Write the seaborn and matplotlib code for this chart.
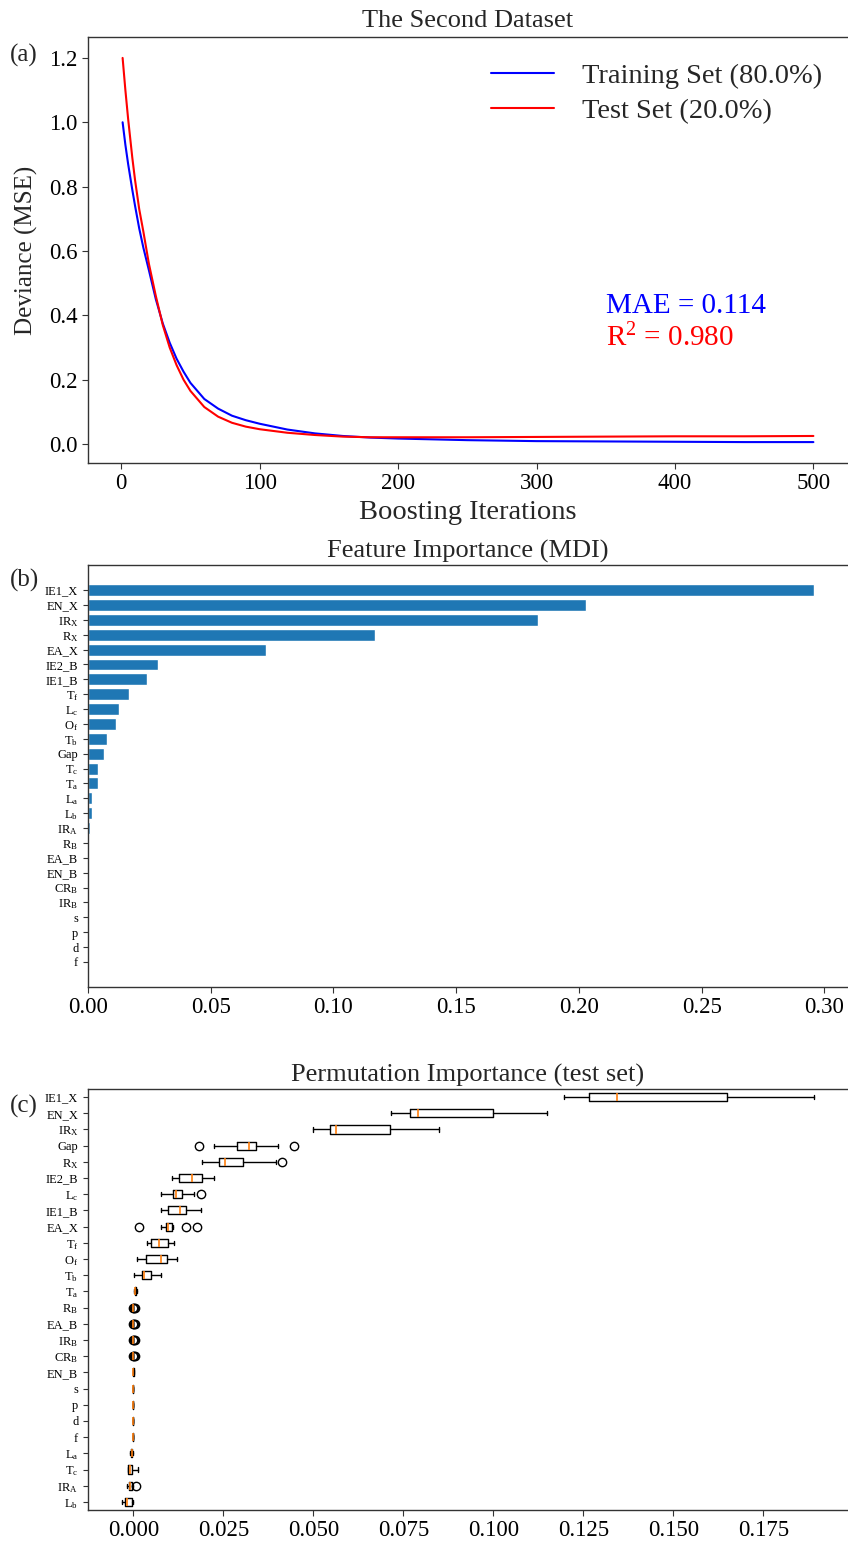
import numpy as np
import pandas as pd
import matplotlib
matplotlib.use("Agg")
import matplotlib.pyplot as plt
from matplotlib.lines import Line2D
import seaborn as sns

# ---------------- data ----------------
iterations = [1, 3, 5, 8, 10, 13, 16, 20, 25, 30, 35, 40, 45, 50, 60, 70, 80, 90,
              100, 120, 140, 160, 180, 200, 250, 300, 350, 400, 450, 500]
train_dev = [1.00, 0.93, 0.87, 0.79, 0.74, 0.67, 0.61, 0.54, 0.45, 0.375, 0.315, 0.265,
             0.225, 0.19, 0.14, 0.11, 0.088, 0.074, 0.063, 0.045, 0.033, 0.025, 0.020,
             0.017, 0.012, 0.009, 0.008, 0.007, 0.006, 0.006]
test_dev = [1.20, 1.10, 1.01, 0.89, 0.82, 0.73, 0.66, 0.56, 0.46, 0.37, 0.30, 0.245,
            0.20, 0.165, 0.115, 0.085, 0.066, 0.054, 0.046, 0.035, 0.028, 0.023, 0.021,
            0.021, 0.021, 0.022, 0.023, 0.024, 0.024, 0.025]
train_label = "Training Set (80.0%)"
test_label = "Test Set (20.0%)"
mae_text = "MAE = 0.114"
r2_text = r"R$^2$ = 0.980"

mdi_features = ["IE1_X", "EN_X", r"$\mathrm{IR_X}$", r"$\mathrm{R_X}$", "EA_X", "IE2_B", "IE1_B",
                r"$\mathrm{T_f}$", r"$\mathrm{L_c}$", r"$\mathrm{O_f}$", r"$\mathrm{T_b}$", "Gap",
                r"$\mathrm{T_c}$", r"$\mathrm{T_a}$", r"$\mathrm{L_a}$", r"$\mathrm{L_b}$",
                r"$\mathrm{IR_A}$", r"$\mathrm{R_B}$", "EA_B", "EN_B", r"$\mathrm{CR_B}$",
                r"$\mathrm{IR_B}$", "s", "p", "d", "f"]
mdi_values = [0.2956, 0.2028, 0.1832, 0.1169, 0.0725, 0.0285, 0.0242, 0.0167, 0.0128,
              0.0114, 0.0077, 0.0066, 0.0041, 0.0041, 0.0018, 0.0018, 0.0010, 0.0, 0.0,
              0.0, 0.0, 0.0, 0.0, 0.0, 0.0, 0.0]

perm_features = ["IE1_X", "EN_X", r"$\mathrm{IR_X}$", "Gap", r"$\mathrm{R_X}$", "IE2_B",
                 r"$\mathrm{L_c}$", "IE1_B", "EA_X", r"$\mathrm{T_f}$", r"$\mathrm{O_f}$",
                 r"$\mathrm{T_b}$", r"$\mathrm{T_a}$", r"$\mathrm{R_B}$", "EA_B",
                 r"$\mathrm{IR_B}$", r"$\mathrm{CR_B}$", "EN_B", "s", "p", "d", "f",
                 r"$\mathrm{L_a}$", r"$\mathrm{T_c}$", r"$\mathrm{IR_A}$", r"$\mathrm{L_b}$"]
perm_whislo = [0.1195, 0.0715, 0.0498, 0.0223, 0.0190, 0.0107, 0.0077, 0.0077, 0.0078,
               0.0038, 0.0010, 0.0001, 0.0002, 0.0, 0.0, 0.0, 0.0, -0.0001, 0.0, 0.0,
               0.0, 0.0, -0.0008, -0.0016, -0.0018, -0.0032]
perm_q1 = [0.1266, 0.0768, 0.0545, 0.0287, 0.0239, 0.0127, 0.0110, 0.0096, 0.0091,
           0.0049, 0.0034, 0.0023, 0.0004, 0.0, 0.0, 0.0, 0.0, -0.00005, 0.0, 0.0,
           0.0, 0.0, -0.0007, -0.0015, -0.0013, -0.0023]
perm_med = [0.1344, 0.0792, 0.0562, 0.0322, 0.0254, 0.0163, 0.0118, 0.0130, 0.0096,
            0.0071, 0.0076, 0.0030, 0.0005, 0.0, 0.0, 0.0, 0.0, 0.0, 0.0, 0.0,
            0.0, 0.0, -0.0005, -0.0009, -0.0010, -0.0018]
perm_q3 = [0.1649, 0.0999, 0.0714, 0.0340, 0.0305, 0.0192, 0.0135, 0.0146, 0.0108,
           0.0097, 0.0093, 0.0049, 0.0007, 0.0, 0.0, 0.0, 0.0, 0.00005, 0.0, 0.0,
           0.0, 0.0, -0.0003, -0.0004, -0.0004, -0.0005]
perm_whishi = [0.1890, 0.1149, 0.0848, 0.0401, 0.0397, 0.0224, 0.0168, 0.0187, 0.0110,
               0.0112, 0.0122, 0.0078, 0.0009, 0.0, 0.0, 0.0, 0.0, 0.0001, 0.0, 0.0,
               0.0, 0.0, -0.0002, 0.0013, -0.0002, -0.0002]
perm_fliers = [[], [], [], [0.0182, 0.0445], [0.0414], [], [0.0187], [],
               [0.0017, 0.0146, 0.0176], [], [], [], [],
               [-0.0002, 0.0002, 0.0004], [-0.0002, 0.0002, 0.0004],
               [-0.0002, 0.0002, 0.0004], [-0.0002, 0.0002, 0.0004],
               [], [], [], [], [], [], [], [0.0006], []]

# ---------------- style ----------------
sns.set_style("ticks")
plt.rcParams["font.family"] = ["Liberation Serif", "DejaVu Serif"]
plt.rcParams["mathtext.fontset"] = "custom"
plt.rcParams["mathtext.rm"] = "Liberation Serif"
plt.rcParams["mathtext.it"] = "Liberation Serif:italic"
plt.rcParams["axes.edgecolor"] = "#333333"
plt.rcParams["axes.linewidth"] = 1.0
plt.rcParams["xtick.color"] = "#333333"
plt.rcParams["ytick.color"] = "#333333"
plt.rcParams["xtick.labelcolor"] = "black"
plt.rcParams["ytick.labelcolor"] = "black"

W, H = 848, 1544
fig = plt.figure(figsize=(W / 100, H / 100), dpi=100)

def rect(left, top, right, bottom):
    return [left / W, 1 - bottom / H, (right - left) / W, (bottom - top) / H]

ax1 = fig.add_axes(rect(88, 37, 848, 463))
ax2 = fig.add_axes(rect(88, 565, 848, 987))
ax3 = fig.add_axes(rect(88, 1089, 848, 1510))

# ---------------- (a) deviance ----------------
df = pd.DataFrame({
    "iter": iterations * 2,
    "dev": train_dev + test_dev,
    "set": [train_label] * len(iterations) + [test_label] * len(iterations),
})
sns.lineplot(data=df, x="iter", y="dev", hue="set",
             palette={train_label: "blue", test_label: "red"},
             linewidth=1.5, ax=ax1, legend=False)
ax1.set_xlim(-24, 525)
ax1.set_ylim(-0.059, 1.265)
ax1.set_xticks([0, 100, 200, 300, 400, 500])
ax1.set_yticks([0.0, 0.2, 0.4, 0.6, 0.8, 1.0, 1.2])
ax1.tick_params(labelsize=16.5, length=4)
ax1.set_xlabel("Boosting Iterations", fontsize=20.5, labelpad=4)
ax1.set_ylabel("Deviance (MSE)", fontsize=18, labelpad=8)
ax1.set_title("The Second Dataset", fontsize=19, pad=7)
handles = [Line2D([], [], color="blue", lw=1.5), Line2D([], [], color="red", lw=1.5)]
ax1.legend(handles, [train_label, test_label], loc="upper right", frameon=False,
           fontsize=20.5, handlelength=2.2, handletextpad=1.0, borderaxespad=0.5,
           labelspacing=0.35)
ax1.text(350, 0.43, mae_text, color="blue", fontsize=21, va="center")
ax1.text(350, 0.33, r2_text, color="red", fontsize=21, va="center")
ax1.spines["right"].set_visible(False)

# ---------------- (b) MDI ----------------
sns.barplot(x=mdi_values, y=mdi_features, orient="h", color="#1f77b4",
            saturation=1, width=0.8, ax=ax2)
n = len(mdi_features)
ax2.set_ylim(n - 1 + 1.69, -1.69)
ax2.set_xlim(0, 0.3096)
ax2.set_xticks([0.0, 0.05, 0.10, 0.15, 0.20, 0.25, 0.30])
ax2.set_xticklabels(["0.00", "0.05", "0.10", "0.15", "0.20", "0.25", "0.30"])
ax2.tick_params(axis="x", labelsize=16.5, length=4)
ax2.tick_params(axis="y", labelsize=9, length=3.5)
ax2.set_title("Feature Importance (MDI)", fontsize=19, pad=5)
ax2.set_xlabel("")
ax2.set_ylabel("")
ax2.spines["right"].set_visible(False)

# ---------------- (c) permutation ----------------
stats = []
for i in range(len(perm_features)):
    stats.append(dict(med=perm_med[i], q1=perm_q1[i], q3=perm_q3[i],
                      whislo=perm_whislo[i], whishi=perm_whishi[i],
                      fliers=np.array(perm_fliers[i]), label=perm_features[i]))
m = len(perm_features)
ax3.bxp(stats, positions=np.arange(1, m + 1), orientation="horizontal",
        widths=0.5, showfliers=True,
        boxprops=dict(color="black", linewidth=1.0),
        whiskerprops=dict(color="black", linewidth=1.0),
        capprops=dict(color="black", linewidth=1.0),
        medianprops=dict(color="#ff7f0e", linewidth=1.2),
        flierprops=dict(marker="o", markerfacecolor="none", markeredgecolor="black",
                        markersize=6))
ax3.set_ylim(m + 0.5, 0.5)
ax3.set_xlim(-0.0126, 0.1985)
ax3.set_xticks([0.0, 0.025, 0.05, 0.075, 0.1, 0.125, 0.15, 0.175])
ax3.set_xticklabels(["0.000", "0.025", "0.050", "0.075", "0.100", "0.125", "0.150", "0.175"])
ax3.tick_params(axis="x", labelsize=16.5, length=4)
ax3.tick_params(axis="y", labelsize=9, length=3.5)
ax3.set_title("Permutation Importance (test set)", fontsize=19, pad=5)
ax3.spines["right"].set_visible(False)

# panel letters
fig.text(10 / W, 1 - 55 / H, "(a)", fontsize=18, va="center")
fig.text(10 / W, 1 - 580 / H, "(b)", fontsize=18, va="center")
fig.text(10 / W, 1 - 1106 / H, "(c)", fontsize=18, va="center")

fig.savefig("out.png", dpi=100)
